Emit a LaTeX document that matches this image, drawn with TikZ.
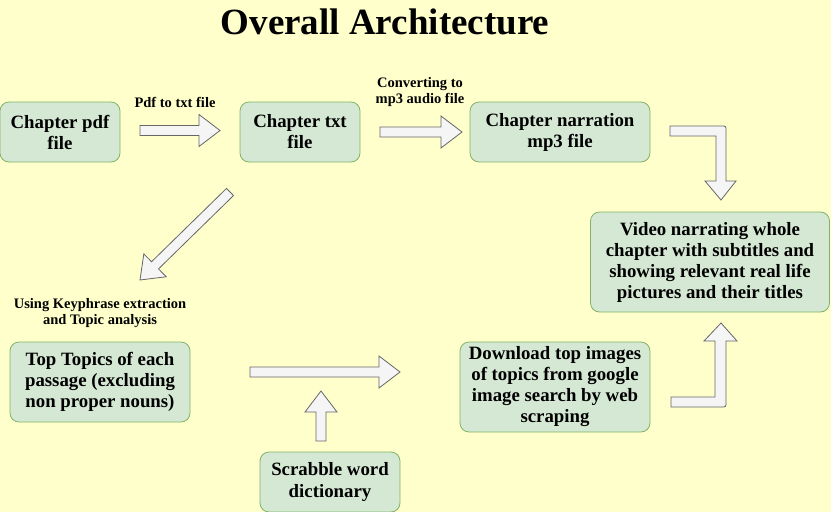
\documentclass[tikz,border=0pt]{standalone}
\usepackage{fontspec}
\setmainfont{Liberation Serif}
\usetikzlibrary{calc}

\definecolor{bgyellow}{HTML}{FFFFCC}
\definecolor{boxfill}{HTML}{D5E8D4}
\definecolor{boxline}{HTML}{82B366}
\definecolor{arrfill}{HTML}{F5F5F5}
\definecolor{arrline}{HTML}{666666}

\tikzset{
  box/.style={draw=boxline, fill=boxfill, line width=0.8pt, rounded corners=9pt,
    align=center, inner sep=2pt, font=\bfseries\fontsize{18.8}{21}\selectfont},
  lbl/.style={align=center, font=\bfseries\fontsize{14.5}{16.5}\selectfont},
  barrow/.style={draw=arrline, fill=arrfill, line width=0.8pt, line join=miter},
}

% block arrow from #1 (tail) to #2 (tip)
\newcommand{\blockarrow}[2]{%
  \coordinate (hb) at ($(#2)!21pt!(#1)$);
  \draw[barrow] ($(#1)!5pt!90:(#2)$) -- ($(hb)!5pt!90:(#2)$) -- ($(hb)!16pt!90:(#2)$)
    -- (#2) -- ($(hb)!16pt!-90:(#2)$) -- ($(hb)!5pt!-90:(#2)$) -- ($(#1)!5pt!-90:(#2)$) -- cycle;
}

\begin{document}
\begin{tikzpicture}[x=1pt, y=-1pt]
    \fill[bgyellow] (0,0) rectangle (831,512);
    \useasboundingbox (0,0) rectangle (831,512);

    \node[font=\bfseries\fontsize{37}{42}\selectfont] (title) at (385,22) {Overall Architecture};

    % boxes
    \node[box, minimum width=120pt, minimum height=60pt] (pdf) at (60,132) {Chapter pdf\\file};
    \node[box, minimum width=120pt, minimum height=60pt] (txt) at (300,132) {Chapter txt\\file};
    \node[box, minimum width=180pt, minimum height=60pt] (mp3) at (560,132) {Chapter narration\\mp3 file};
    \node[box, minimum width=239pt, minimum height=100pt] (video) at (710,262)
      {Video narrating whole\\chapter with subtitles and\\showing relevant real life\\pictures and their titles};
    \node[box, minimum width=180pt, minimum height=80pt] (topics) at (100,382)
      {Top Topics of each\\passage (excluding\\non proper nouns)};
    \node[box, minimum width=190pt, minimum height=90pt] (images) at (555,387)
      {Download top images\\of topics from google\\image search by web\\scraping};
    \node[box, minimum width=140pt, minimum height=60pt] (scrabble) at (330,482) {Scrabble word\\dictionary};

    % labels
    \node[lbl] (lpdf) at (175,102) {Pdf to txt file};
    \node[lbl] (lmp3) at (420,92) {Converting to\\mp3 audio file};
    \node[lbl] (lkey) at (100,313) {Using Keyphrase extraction\\and Topic analysis};

    % straight arrows
    \coordinate (a1s) at (140,130.5);
    \coordinate (a1t) at (220,130.5);
    \coordinate (a2s) at (380,132);
    \coordinate (a2t) at (462,132);
    \coordinate (a3s) at (230,192);
    \coordinate (a3t) at (140,280);
    \coordinate (a4s) at (250,372);
    \coordinate (a4t) at (400,372);
    \coordinate (a5s) at (321,441);
    \coordinate (a5t) at (321,391);
    \blockarrow{a1s}{a1t}
    \blockarrow{a2s}{a2t}
    \blockarrow{a3s}{a3t}
    \blockarrow{a4s}{a4t}
    \blockarrow{a5s}{a5t}

    % bent arrows
    \draw[barrow] (670,126) -- (721,126) .. controls (726,126) .. (726,131) -- (726,181)
      -- (736,181) -- (721,200) -- (705,181) -- (716,181) -- (716,136) -- (670,136) -- cycle;
    \draw[barrow] (671,397) -- (715,397) -- (715,341) -- (704,341) -- (721,323) -- (737,341)
      -- (726,341) -- (726,402) .. controls (726,407) .. (721,407) -- (671,407) -- cycle;
\end{tikzpicture}
\end{document}
